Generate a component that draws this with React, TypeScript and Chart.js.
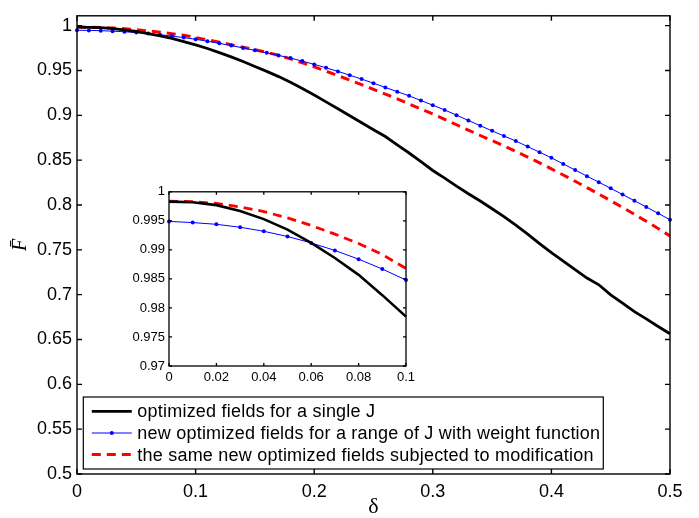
import React, { useEffect, useRef } from "react";
import { Chart, registerables } from "chart.js";

Chart.register(...registerables);

// ---------- data ----------
const delta = [
  0, 0.01, 0.02, 0.03, 0.04, 0.05, 0.06, 0.07, 0.08, 0.09, 0.1,
  0.11, 0.12, 0.13, 0.14, 0.15, 0.16, 0.17, 0.18, 0.19, 0.2,
  0.21, 0.22, 0.23, 0.24, 0.25, 0.26, 0.27, 0.28, 0.29, 0.3,
  0.31, 0.32, 0.33, 0.34, 0.35, 0.36, 0.37, 0.38, 0.39, 0.4,
  0.41, 0.42, 0.43, 0.44, 0.45, 0.46, 0.47, 0.48, 0.49, 0.5,
];

const fSingle = [
  0.9983, 0.9982, 0.9977, 0.9967, 0.9953, 0.9935, 0.9912, 0.9886, 0.9857, 0.9822, 0.9785,
  0.9745, 0.97, 0.9652, 0.96, 0.9545, 0.949, 0.9432, 0.9368, 0.93, 0.9226,
  0.915, 0.9073, 0.8995, 0.8917, 0.884, 0.8764, 0.867, 0.858, 0.8485, 0.8385,
  0.83, 0.821, 0.8125, 0.8044, 0.7958, 0.787, 0.7775, 0.7675, 0.757, 0.7468,
  0.7375, 0.728, 0.7185, 0.711, 0.6998, 0.6905, 0.681, 0.673, 0.6645, 0.6564,
];

const fWeighted = [
  0.9949, 0.9947, 0.9944, 0.9939, 0.9932, 0.9923, 0.9912, 0.9899, 0.9884, 0.9867, 0.9848,
  0.9826, 0.9803, 0.9778, 0.9752, 0.9725, 0.9697, 0.9668, 0.9638, 0.9605, 0.9568,
  0.953, 0.949, 0.9448, 0.9404, 0.9358, 0.9311, 0.9264, 0.9217, 0.9165, 0.9113,
  0.906, 0.9002, 0.8943, 0.8884, 0.8827, 0.877, 0.8713, 0.8651, 0.8589, 0.8526,
  0.8458, 0.839, 0.8322, 0.8254, 0.8186, 0.8117, 0.8048, 0.7978, 0.7907, 0.7836,
];

const fModified = [
  0.9984, 0.9983, 0.998, 0.9974, 0.9966, 0.9955, 0.9942, 0.9927, 0.9911, 0.9892, 0.9868,
  0.9842, 0.9815, 0.9788, 0.976, 0.9731, 0.9702, 0.967, 0.963, 0.9586, 0.954,
  0.9492, 0.9443, 0.9393, 0.9342, 0.929, 0.9237, 0.9183, 0.9127, 0.907, 0.9015,
  0.8955, 0.8895, 0.8835, 0.8775, 0.8718, 0.866, 0.8598, 0.8535, 0.847, 0.8403,
  0.8335, 0.8265, 0.8194, 0.8122, 0.8048, 0.7973, 0.7896, 0.7818, 0.7738, 0.7655,
];

const seriesLabels = [
  "optimized fields for a single J",
  "new optimized fields for a range of J with weight function",
  "the same new optimized fields subjected to modification",
];

const xTicks = [0, 0.1, 0.2, 0.3, 0.4, 0.5];
const yTicks = [0.5, 0.55, 0.6, 0.65, 0.7, 0.75, 0.8, 0.85, 0.9, 0.95, 1];
const insetXTicks = [0, 0.02, 0.04, 0.06, 0.08, 0.1];
const insetYTicks = [0.97, 0.975, 0.98, 0.985, 0.99, 0.995, 1];
const insetCount = 11; // points with delta <= 0.1

// ---------- helpers ----------
const SANS = '"Liberation Sans", Arial, Helvetica, sans-serif';
const SERIF = '"Liberation Serif", "Times New Roman", serif';
const fmt = (v: number) => String(parseFloat(Number(v).toFixed(4)));

const pts = (xs: number[], ys: number[], n = xs.length) =>
  xs.slice(0, n).map((x, i) => ({ x, y: ys[i] }));

const framePlugin = {
  id: "frame",
  beforeDraw(chart: any) {
    const { ctx, chartArea: a } = chart;
    ctx.save();
    ctx.fillStyle = "#ffffff";
    ctx.fillRect(a.left, a.top, a.right - a.left, a.bottom - a.top);
    ctx.restore();
  },
  afterDraw(chart: any, _a: any, opts: any) {
    const { ctx, chartArea: a, scales } = chart;
    const len = opts.tickLength ?? 5;
    ctx.save();
    ctx.strokeStyle = "#000";
    ctx.lineWidth = opts.lineWidth ?? 1;
    ctx.beginPath();
    scales.x.ticks.forEach((t: any) => {
      const px = scales.x.getPixelForValue(t.value);
      ctx.moveTo(px, a.bottom);
      ctx.lineTo(px, a.bottom - len);
      ctx.moveTo(px, a.top);
      ctx.lineTo(px, a.top + len);
    });
    scales.y.ticks.forEach((t: any) => {
      const py = scales.y.getPixelForValue(t.value);
      ctx.moveTo(a.left, py);
      ctx.lineTo(a.left + len, py);
      ctx.moveTo(a.right, py);
      ctx.lineTo(a.right - len, py);
    });
    ctx.stroke();
    ctx.strokeRect(a.left, a.top, a.right - a.left, a.bottom - a.top);
    ctx.restore();
  },
};

const boxLegendPlugin = {
  id: "boxLegend",
  afterDraw(chart: any) {
    const { ctx, chartArea: a } = chart;
    const ds = chart.data.datasets;
    ctx.save();
    ctx.font = `18px ${SANS}`;
    try {
      (ctx as any).letterSpacing = "0.22px";
    } catch (e) {}
    const rowH = 21.6;
    const padL = 8.5, sampleW = 40, gap = 5.5, padR = 3;
    const textW = Math.max(...ds.map((d: any) => ctx.measureText(d.label).width));
    const w = padL + sampleW + gap + textW + padR;
    const h = rowH * ds.length + 7.2;
    const x0 = a.left + 6.3;
    const y0 = a.bottom - 5 - h;
    ctx.fillStyle = "#fff";
    ctx.fillRect(x0, y0, w, h);
    ctx.strokeStyle = "#000";
    ctx.lineWidth = 1.2;
    ctx.strokeRect(x0, y0, w, h);
    ds.forEach((d: any, i: number) => {
      const cy = y0 + 14.4 + i * rowH;
      const sx = x0 + padL;
      ctx.save();
      ctx.strokeStyle = d.borderColor;
      ctx.lineWidth = d.borderWidth;
      ctx.setLineDash(d.borderDash || []);
      ctx.beginPath();
      ctx.moveTo(sx, cy);
      ctx.lineTo(sx + sampleW, cy);
      ctx.stroke();
      if (d.pointRadius > 0) {
        ctx.fillStyle = d.pointBackgroundColor;
        ctx.beginPath();
        ctx.arc(sx + sampleW / 2, cy, d.pointRadius, 0, Math.PI * 2);
        ctx.fill();
      }
      ctx.restore();
      ctx.fillStyle = "#000";
      ctx.textBaseline = "middle";
      ctx.textAlign = "left";
      ctx.fillText(d.label, sx + sampleW + gap, cy + 1);
    });
    ctx.restore();
  },
};

function makeDatasets(n: number, big: boolean) {
  return [
    {
      label: seriesLabels[0],
      data: pts(delta, fSingle, n),
      borderColor: "#000000",
      backgroundColor: "#000000",
      borderWidth: big ? 2.8 : 2.6,
      pointRadius: 0,
      tension: 0,
      clip: false as any,
    },
    {
      label: seriesLabels[1],
      data: pts(delta, fWeighted, n),
      borderColor: "#0000ff",
      backgroundColor: "#0000ff",
      pointBackgroundColor: "#0000ff",
      pointBorderWidth: 0,
      borderWidth: 1,
      pointRadius: 2,
      tension: 0,
      clip: false as any,
    },
    {
      label: seriesLabels[2],
      data: pts(delta, fModified, n),
      borderColor: "#ff0000",
      backgroundColor: "#ff0000",
      borderWidth: big ? 3 : 2.8,
      borderDash: [9, 6],
      pointRadius: 0,
      tension: 0,
      clip: false as any,
    },
  ];
}

function axisX(ticks: number[], min: number, max: number, size: number, pad: number, height: number, title?: any) {
  return {
    type: "linear" as const,
    min,
    max,
    afterBuildTicks: (s: any) => {
      s.ticks = ticks.map((value) => ({ value }));
    },
    afterFit: (s: any) => {
      s.height = height;
    },
    ticks: {
      color: "#000",
      font: { family: SANS, size },
      padding: pad,
      maxRotation: 0,
      autoSkip: false,
      callback: (v: any) => fmt(v),
    },
    grid: { display: false, drawTicks: false, tickLength: 0 },
    border: { display: false },
    title: title || { display: false },
  };
}

function axisY(ticks: number[], min: number, max: number, size: number, pad: number, width: number, title?: any) {
  return {
    type: "linear" as const,
    min,
    max,
    afterBuildTicks: (s: any) => {
      s.ticks = ticks.map((value) => ({ value }));
    },
    afterFit: (s: any) => {
      s.width = width;
    },
    ticks: {
      color: "#000",
      font: { family: SANS, size },
      padding: pad,
      autoSkip: false,
      callback: (v: any) => fmt(v),
    },
    grid: { display: false, drawTicks: false, tickLength: 0 },
    border: { display: false },
    title: title || { display: false },
  };
}

export default function App() {
  const mainRef = useRef<HTMLCanvasElement | null>(null);
  const insetRef = useRef<HTMLCanvasElement | null>(null);

  useEffect(() => {
    if (!mainRef.current || !insetRef.current) return;
    const main = new Chart(mainRef.current, {
      type: "line",
      data: { datasets: makeDatasets(delta.length, true) as any },
      options: {
        responsive: false,
        animation: false,
        events: [],
        layout: { padding: { top: 8, right: 29, left: 0, bottom: 0 } },
        plugins: {
          legend: { display: false },
          tooltip: { enabled: false },
          frame: { tickLength: 5, lineWidth: 1.4 },
        } as any,
        scales: {
          x: axisX(xTicks, 0, 0.5, 18, 7, 44, {
            display: true,
            text: "δ",
            color: "#000",
            font: { family: SERIF, size: 22 },
            padding: { top: 0, bottom: -2 },
          }),
          y: axisY(yTicks, 0.5, 1.011, 18, 5, 77, {
            display: true,
            text: "F\u0304",
            color: "#000",
            font: { family: SERIF, size: 20, style: "italic" },
            padding: { top: 9, bottom: 0 },
          }),
        } as any,
      },
      plugins: [framePlugin, boxLegendPlugin],
    });

    const inset = new Chart(insetRef.current, {
      type: "line",
      data: { datasets: makeDatasets(insetCount, false) as any },
      options: {
        responsive: false,
        animation: false,
        events: [],
        layout: { padding: { top: 9, right: 14, left: 0, bottom: 0 } },
        plugins: {
          legend: { display: false },
          tooltip: { enabled: false },
          frame: { tickLength: 3, lineWidth: 1.3 },
        } as any,
        scales: {
          x: axisX(insetXTicks, 0, 0.1, 13, 4, 24),
          y: axisY(insetYTicks, 0.97, 1, 13, 4, 59),
        } as any,
      },
      plugins: [framePlugin],
    });

    return () => {
      main.destroy();
      inset.destroy();
    };
  }, []);

  return (
    <div style={{ position: "absolute", left: 0, top: 0, width: 699, height: 518, background: "#fff", overflow: "hidden" }}>
      <canvas ref={mainRef} width={699} height={518} style={{ position: "absolute", left: 0, top: 0, display: "block" }} />
      <canvas ref={insetRef} width={310} height={210} style={{ position: "absolute", left: 110, top: 180, display: "block" }} />
    </div>
  );
}
